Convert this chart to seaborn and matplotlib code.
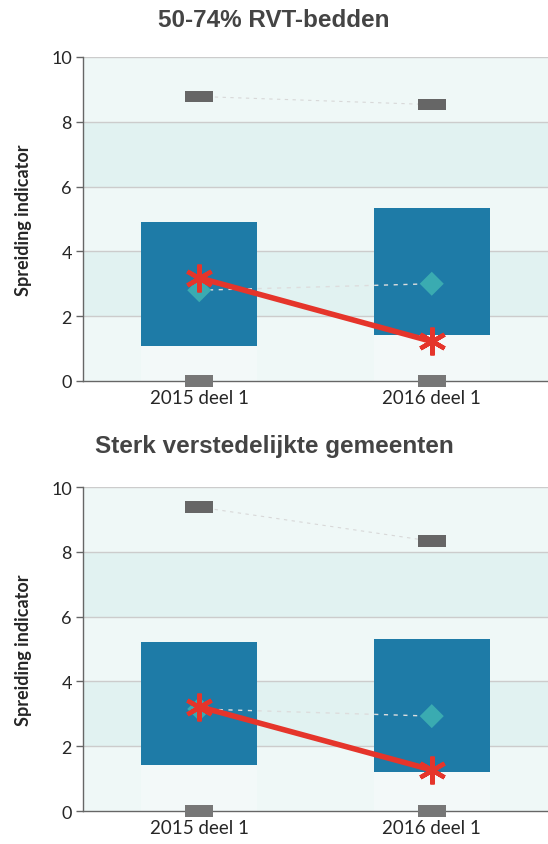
import numpy as np
import pandas as pd
import seaborn as sns
import matplotlib.pyplot as plt

sns.set_style("white")
plt.rcParams['font.family'] = ['Lato', 'DejaVu Sans']

categories = ['2015 deel 1', '2016 deel 1']
titles = ['50-74% RVT-bedden', 'Sterk verstedelijkte gemeenten']

# per panel: min, box low, box high, max, diamond (median), red line (own value)
mins = [[0.0, 0.0], [0.0, 0.0]]
box_low = [[1.08, 1.42], [1.42, 1.20]]
box_high = [[4.90, 5.33], [5.22, 5.31]]
maxs = [[8.78, 8.53], [9.38, 8.33]]
medians = [[2.80, 3.00], [3.15, 2.93]]
own = [[3.18, 1.22], [3.22, 1.27]]

box_color = '#1e7ba7'
band_light = '#eff8f7'
band_dark = '#e1f2f1'
red = '#e5352b'
teal = '#3aabb1'
grey = '#666666'

rect = [(-2.5, -1), (2.5, -1), (2.5, 1), (-2.5, 1)]
asterisk = (6, 2, 0)

fig = plt.figure(figsize=(5.48, 8.45), dpi=100)
positions = [[0.1515, 0.548, 0.8485, 0.3834], [0.1515, 0.039, 0.8485, 0.3834]]
title_y = [0.976, 0.472]

for i in range(2):
    ax = fig.add_axes(positions[i])
    df = pd.DataFrame({'cat': categories, 'low': box_low[i], 'high': box_high[i],
                       'min': mins[i], 'max': maxs[i], 'med': medians[i], 'own': own[i]})

    # background bands
    for j, lo in enumerate(range(0, 10, 2)):
        ax.axhspan(lo, lo + 2, color=band_dark if j % 2 else band_light, zorder=0, lw=0)
    for yv in [2, 4, 6, 8, 10]:
        ax.axhline(yv, color='#cccccc', lw=1, zorder=1)

    # faint column behind the box
    ax.bar(df['cat'], df['low'], width=0.5, color='white', alpha=0.25, lw=0, zorder=1)
    ax.bar(df['cat'], df['high'] - df['low'], bottom=df['low'], width=0.5,
           color=box_color, lw=0, zorder=2)

    # min / max markers with faint connectors
    ax.plot(df['cat'], df['max'], ls=(0, (3, 4)), color='#d8d8d8', lw=0.8, zorder=3)
    sns.scatterplot(data=df, x='cat', y='max', marker=rect, s=420, color=grey,
                    edgecolor='none', ax=ax, zorder=4, clip_on=False)
    sns.scatterplot(data=df, x='cat', y='min', marker=rect, s=420, color='#777777',
                    edgecolor='none', ax=ax, zorder=4, clip_on=False)

    # median diamonds
    ax.plot(df['cat'], df['med'], ls=(0, (3, 4)), color='#dddddd', lw=1, zorder=3)
    sns.scatterplot(data=df, x='cat', y='med', marker='D', s=150, color=teal,
                    edgecolor='none', ax=ax, zorder=4)

    # own value
    sns.lineplot(data=df, x='cat', y='own', color=red, lw=4, marker=asterisk,
                 markersize=20, markeredgewidth=3.2, markeredgecolor=red,
                 sort=False, ax=ax, zorder=5)

    ax.set_xlim(-0.5, 1.5)
    ax.set_ylim(0, 10)
    ax.set_yticks([0, 2, 4, 6, 8, 10])
    ax.set_xlabel('')
    ax.set_ylabel('Spreiding indicator', fontsize=13, fontweight='bold', labelpad=14)
    ax.tick_params(axis='y', length=5, width=1, color=grey, labelsize=13, pad=3, left=True)
    ax.tick_params(axis='x', length=0, labelsize=13.5, pad=6)
    for s in ['top', 'right']:
        ax.spines[s].set_visible(False)
    for s in ['left', 'bottom']:
        ax.spines[s].set_color(grey)
        ax.spines[s].set_linewidth(1)
    fig.text(0.5, title_y[i], titles[i], ha='center', va='center', fontsize=17.5,
             fontweight='bold', color='#444444', family='Liberation Sans')

fig.savefig('out.png', dpi=100)
